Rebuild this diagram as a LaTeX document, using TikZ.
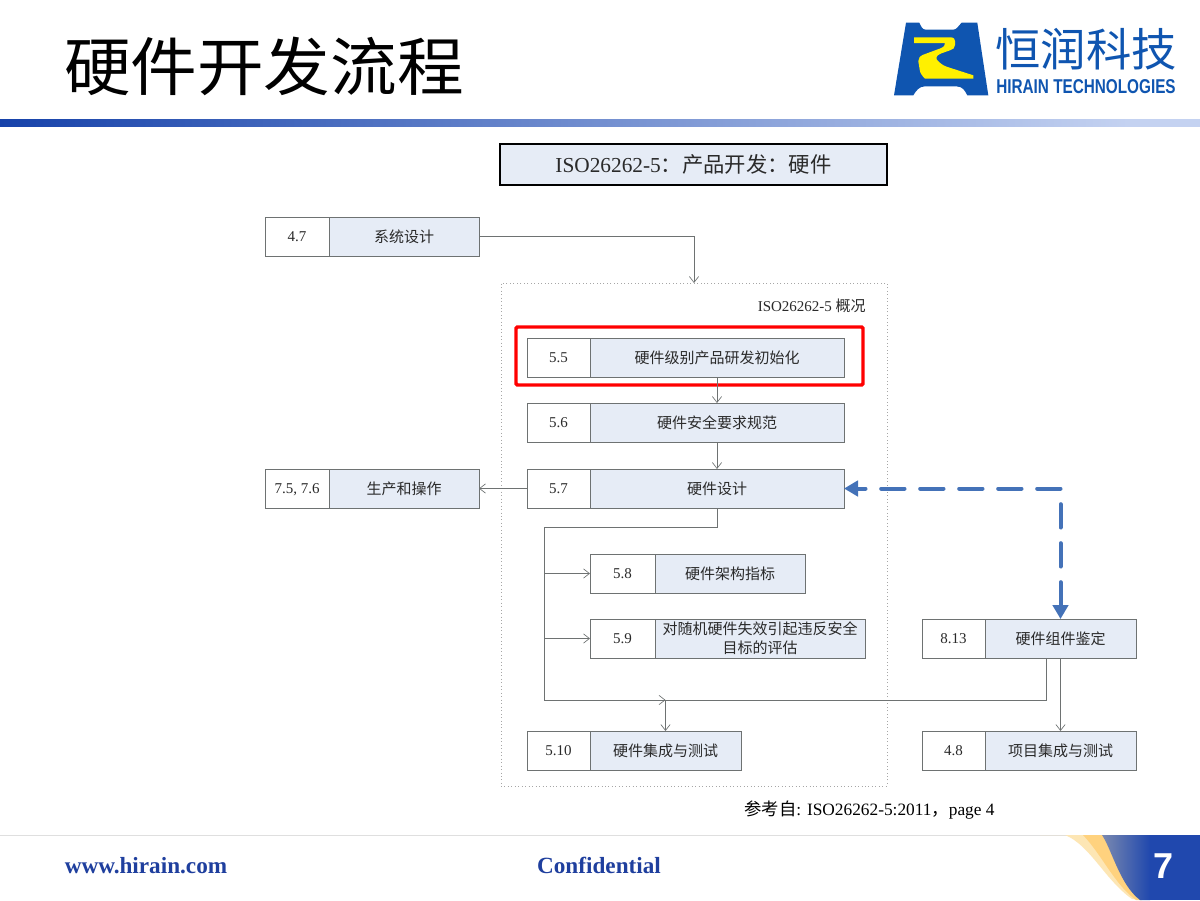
\documentclass[tikz,border=0pt]{standalone}
\usepackage{fontspec}
\setmainfont{Liberation Serif}
\newfontfamily\cjk{Noto Sans CJK SC}
\newfontfamily\lsans{Liberation Sans}
\usetikzlibrary{arrows.meta,calc}
\definecolor{boxfill}{HTML}{E6ECF6}
\definecolor{boxline}{HTML}{6E7272}
\definecolor{txt}{HTML}{2A2A2A}
\definecolor{hblue}{HTML}{0F55B0}
\definecolor{fblue}{HTML}{1F3F9E}
\definecolor{barl}{HTML}{1642AA}
\definecolor{barr}{HTML}{C4D2F1}
\definecolor{cblue}{HTML}{2048AE}
\definecolor{cgray}{HTML}{7E8CB0}
\definecolor{gold}{HTML}{FFD27E}
\definecolor{goldl}{HTML}{FDE6B4}
\definecolor{dblue}{HTML}{4472B8}
\definecolor{lyellow}{HTML}{FFF000}
\pgfdeclarehorizontalshading{barshade}{100bp}{color(0bp)=(barl); color(25bp)=(barl); color(72bp)=(barr); color(100bp)=(barr)}
\tikzset{
  numbox/.style={draw=boxline,fill=white,line width=.7pt,inner sep=0pt,outer sep=0pt,text=txt,text height=7.5pt,text depth=0pt,font=\fontsize{11.25}{12}\selectfont},
  labelbox/.style={draw=boxline,fill=boxfill,line width=.7pt,inner sep=0pt,outer sep=0pt,text=txt,align=center,font=\fontsize{11.25}{14.5}\selectfont\cjk},
  flow/.style={draw=boxline,line width=.6pt},
  flowarrow/.style={flow,-{Straight Barb[length=4.5pt,width=7pt,line width=.5pt]}},
  dashblue/.style={draw=dblue,line width=3pt,line cap=round,-{Triangle[length=10.5pt,width=11.5pt]}},
  foottext/.style={anchor=base,inner sep=0,font=\fontsize{17.4}{18}\selectfont\bfseries,text=fblue}
}
\newcommand{\pairbox}[8]{%
  \node[numbox,minimum width={(#3-#2)*0.75pt},minimum height={(#6-#5)*0.75pt}] (n#1) at ({(#2+#3)/2},{(#5+#6)/2}) {#7};
  \node[labelbox,minimum width={(#4-#3)*0.75pt},minimum height={(#6-#5)*0.75pt}] (t#1) at ({(#3+#4)/2},{(#5+#6)/2}) {#8};
}
\begin{document}
\begin{tikzpicture}[x=0.75pt,y=-0.75pt]
\useasboundingbox (0,0) rectangle (1200,900);
\fill[white] (0,0) rectangle (1200,900);

% title
\node[anchor=center,font=\fontsize{50}{50}\selectfont\cjk,text=black,inner sep=0,yscale=.95] (title) at (264,66.5) {硬件开发流程};

% header bar
\shade[shading=barshade] (0,119) rectangle (1200,126.8);

% logo
\fill[hblue] (894,95.3) -- (906,22.7) -- (919.3,22.7)
  .. controls (921,26) and (922,29.7) .. (926,29.7) -- (953,29.7)
  .. controls (957,29.7) and (958,26) .. (961.7,22.7)
  -- (977.3,22.7) -- (988.3,95.3) -- (967.3,95.3)
  .. controls (965,91) and (963,86.3) .. (956,86.3) -- (925,86.3)
  .. controls (919,86.3) and (916,91) .. (913.3,95.3) -- cycle;
\fill[lyellow] (914,37.3) -- (950,37.3)
  .. controls (954,37.3) and (955,39) .. (955,41)
  -- (955,45) .. controls (955,48) and (953,49.5) .. (950,50.3)
  -- (941,53.5) .. controls (936,55.5) and (935,58.5) .. (938,61)
  .. controls (942,65) and (945,66.3) .. (950,67.8)
  -- (973.3,75.3) -- (973.3,78.7) -- (925,78.7)
  .. controls (922,76) and (920,72) .. (920,71.3)
  -- (918.3,61.3) .. controls (918.3,58) and (920,56) .. (923.3,54.7)
  -- (940,48.5) .. controls (944,47) and (945.5,45) .. (945,43) -- (914,43) -- cycle;
\node[font=\fontsize{34}{34}\selectfont\cjk,text=hblue,inner sep=0] (lcn) at (1086,49) {恒润科技};
\node[font=\fontsize{15}{15}\selectfont\lsans\bfseries,text=hblue,inner sep=0,xscale=.765] (len) at (1086,86.5) {HIRAIN TECHNOLOGIES};

% heading box
\node[draw=black,fill=boxfill,line width=1.5pt,inner sep=0pt,minimum width=290.25pt,minimum height=30.5pt,font=\fontsize{16}{18}\selectfont,text=txt] (head) at (693.5,164.5) {ISO26262-5{\cjk ：产品开发：硬件}};

% frame
\node[draw=gray!70,dotted,line width=.6pt,inner sep=0pt,outer sep=0pt,minimum width={386*0.75pt},minimum height={503*0.75pt}] (frame) at (694,534.5) {};
\node[anchor=east,inner sep=0,font=\fontsize{11.25}{12}\selectfont,text=txt] (ftitle) at (866,306) {ISO26262-5 {\cjk 概况}};

% boxes: name, x1, x2, x3, y1, y2, number, label
\pairbox{47}{265}{329}{479}{217}{256}{4.7}{系统设计}
\pairbox{55}{527}{590}{844}{338}{377}{5.5}{硬件级别产品研发初始化}
\pairbox{56}{527}{590}{844}{403}{442}{5.6}{硬件安全要求规范}
\pairbox{57}{527}{590}{844}{469}{508}{5.7}{硬件设计}
\pairbox{75}{265}{329}{479}{469}{508}{7.5, 7.6}{生产和操作}
\pairbox{58}{590}{655}{805}{554}{593}{5.8}{硬件架构指标}
\pairbox{59}{590}{655}{865}{619}{658}{5.9}{对随机硬件失效引起违反安全\\目标的评估}
\pairbox{510}{527}{590}{741}{731}{770}{5.10}{硬件集成与测试}
\pairbox{813}{922}{985}{1136}{619}{658}{8.13}{硬件组件鉴定}
\pairbox{48}{922}{985}{1136}{731}{770}{4.8}{项目集成与测试}

% red highlight
\node[draw=red,line width=2.6pt,rounded corners=1pt,inner sep=0pt,minimum width={347*0.75pt},minimum height={58*0.75pt}] (hl) at (689.5,356) {};

% connectors
\draw[flowarrow] (t47.east) -| (frame.north);
\draw[flowarrow] (t55.south) -- (t56.north);
\draw[flowarrow] (t56.south) -- (t57.north);
\draw[flowarrow] (n57.west) -- (t75.east);
\coordinate (c1) at (544,527);
\coordinate (c2) at (544,700);
\coordinate (c3) at (t510.north |- c2);
\coordinate (c4) at (1046,658);
\coordinate (b58) at (c1 |- n58.west);
\coordinate (b59) at (c1 |- n59.west);
\draw[flow] (t57.south) |- (c1) -- (c2);
\draw[flowarrow] (c2) -- (c3);
\draw[flow] (c3) -| (c4);
\draw[flowarrow] (b58) -- (n58.west);
\draw[flowarrow] (b59) -- (n59.west);
\draw[flowarrow] (c3) -- (t510.north);
\draw[flowarrow] (t813.south) -- (t48.north);
\coordinate (dc) at (t813.north |- t57.east);
\draw[dashblue,dash pattern=on 17.5pt off 11.75pt] (dc) -- (t57.east);
\draw[dashblue,dash pattern=on 17.5pt off 11.75pt,dash phase=17.5pt] (dc) -- (t813.north);

% reference
\node[inner sep=0,font=\fontsize{13}{14}\selectfont,text=black] (ref) at (869.5,810) {{\cjk 参考自}: ISO26262-5:2011{\cjk ，}page 4};

% footer
\draw[gray!25,line width=.6pt] (0,835) -- (1200,835);
\node[foottext] (web) at (146,873.5) {www.hirain.com};
\node[foottext] (conf) at (599,873.5) {Confidential};

% corner decoration
\fill[goldl] (1040,835) -- (1065,835) .. controls (1090,845) and (1105,880) .. (1132,899) -- (1140,900) -- (1110,835) -- cycle;
\fill[gold] (1083,835) .. controls (1102,855) and (1115,885) .. (1136,900) -- (1142,900) -- (1110,835) -- cycle;
\begin{scope}
\clip (1102,835) .. controls (1112,850) and (1120,885) .. (1140,900) -- (1200,900) -- (1200,835) -- cycle;
\shade[left color=cgray,right color=cblue] (1100,835) rectangle (1150,900);
\fill[cblue] (1150,835) rectangle (1200,900);
\end{scope}
\node[inner sep=0,font=\fontsize{27}{27}\selectfont\lsans\bfseries,text=white] (pg) at (1163,866) {7};
\end{tikzpicture}
\end{document}
